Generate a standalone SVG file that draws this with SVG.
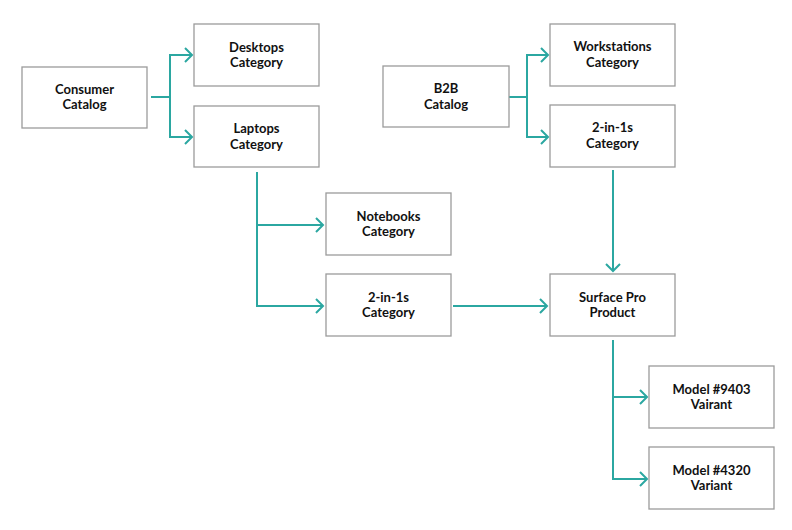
<svg xmlns="http://www.w3.org/2000/svg" width="792" height="530" viewBox="0 0 792 530">
<style>
.box{fill:#fff;stroke:#9b9b9b;stroke-width:1.3}
.t{font-family:Lato,"Liberation Sans",sans-serif;font-weight:700;font-size:13px;fill:#111;text-anchor:middle}
.c{fill:none;stroke:#2ba7a1;stroke-width:2}
</style>
<defs>
<marker id="ah" markerUnits="userSpaceOnUse" viewBox="-9 -9 11 18" refX="0" refY="0" markerWidth="11" markerHeight="18" orient="auto">
<path d="M-7,-7 L0,0 L-7,7" fill="none" stroke="#2ba7a1" stroke-width="2"/>
</marker>
</defs>
<rect width="792" height="530" fill="#fff"/>
<g id="connectors">
<path class="c" d="M151,97 H170 V55 H192" marker-end="url(#ah)"/>
<path class="c" d="M170,97 V137 H192" marker-end="url(#ah)"/>
<path class="c" d="M257,172 V225 H323" marker-end="url(#ah)"/>
<path class="c" d="M257,225 V306 H323" marker-end="url(#ah)"/>
<path class="c" d="M509,97 H527 V55 H548" marker-end="url(#ah)"/>
<path class="c" d="M527,97 V137 H548" marker-end="url(#ah)"/>
<path class="c" d="M613,170 V271" marker-end="url(#ah)"/>
<path class="c" d="M453,306 H547" marker-end="url(#ah)"/>
<path class="c" d="M613,340 V397 H647" marker-end="url(#ah)"/>
<path class="c" d="M613,397 V479 H647" marker-end="url(#ah)"/>
</g>
<g id="consumer"><rect class="box" x="22" y="67" width="125" height="61"/><text class="t" x="84.5" y="93.5">Consumer</text><text class="t" x="84.5" y="109">Catalog</text></g>
<g id="desktops"><rect class="box" x="194" y="24" width="125" height="62"/><text class="t" x="256.5" y="51.5">Desktops</text><text class="t" x="256.5" y="67">Category</text></g>
<g id="laptops"><rect class="box" x="194" y="106" width="125" height="61"/><text class="t" x="256.5" y="133">Laptops</text><text class="t" x="256.5" y="148.5">Category</text></g>
<g id="b2b"><rect class="box" x="383" y="66" width="126" height="61"/><text class="t" x="446" y="93">B2B</text><text class="t" x="446" y="108.5">Catalog</text></g>
<g id="workstations"><rect class="box" x="550" y="24" width="125" height="62"/><text class="t" x="612.5" y="51">Workstations</text><text class="t" x="612.5" y="66.5">Category</text></g>
<g id="twoinone-b2b"><rect class="box" x="550" y="105" width="125" height="62"/><text class="t" x="612.5" y="132">2-in-1s</text><text class="t" x="612.5" y="147.5">Category</text></g>
<g id="notebooks"><rect class="box" x="326" y="193" width="125" height="62"/><text class="t" x="388.5" y="220.5">Notebooks</text><text class="t" x="388.5" y="236">Category</text></g>
<g id="twoinone-consumer"><rect class="box" x="326" y="274" width="125" height="62"/><text class="t" x="388.5" y="301.5">2-in-1s</text><text class="t" x="388.5" y="317">Category</text></g>
<g id="surface"><rect class="box" x="550" y="274" width="125" height="62"/><text class="t" x="612.5" y="301.5">Surface Pro</text><text class="t" x="612.5" y="317">Product</text></g>
<g id="model9403"><rect class="box" x="649" y="366" width="125" height="62"/><text class="t" x="711.5" y="393.5">Model #9403</text><text class="t" x="711.5" y="409">Vairant</text></g>
<g id="model4320"><rect class="box" x="649" y="447" width="125" height="62"/><text class="t" x="711.5" y="474.5">Model #4320</text><text class="t" x="711.5" y="490">Variant</text></g>
</svg>
